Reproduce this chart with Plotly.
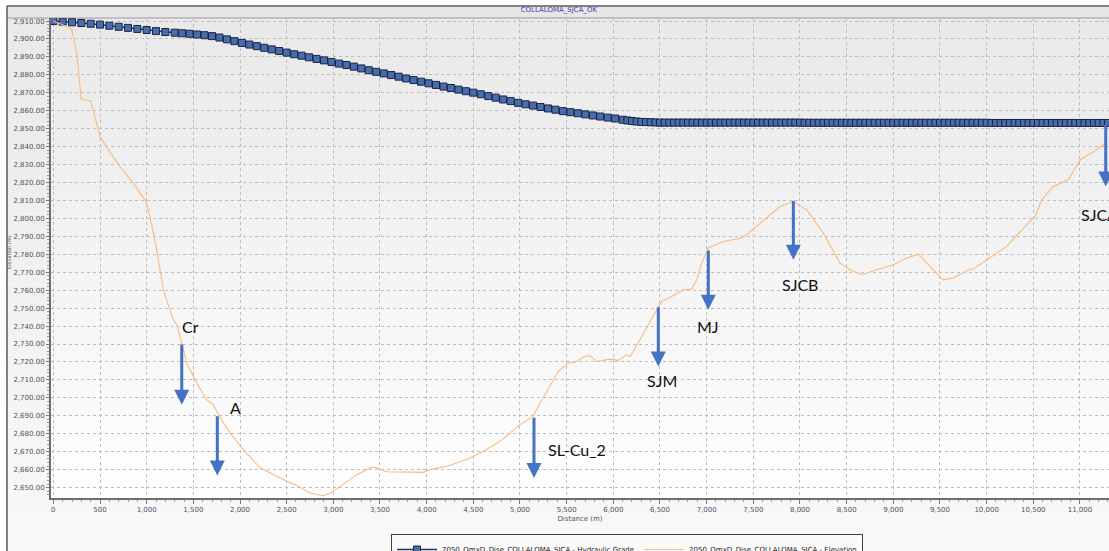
import plotly.graph_objects as go

# ---------------- DATA ----------------
chart_title = "COLLALOMA_SJCA_OK"
grade_name = "2050_QmxD_Dise_COLLALOMA_SJCA - Hydraulic Grade"
elev_name = "2050_QmxD_Dise_COLLALOMA_SJCA - Elevation"

# Hydraulic grade (node distances, m) and values (m)
grade_dist = [
    0, 100, 200, 300, 400, 500, 600, 700, 800, 900, 1000, 1100, 1200, 1300,
    1380, 1460, 1540, 1620, 1700, 1780, 1860, 1940, 2020, 2100,
    2180, 2260, 2340, 2420, 2500, 2580, 2660, 2740, 2820, 2900,
    2980, 3060, 3140, 3220, 3300, 3380, 3460, 3540, 3620, 3700,
    3780, 3860, 3940, 4020, 4100, 4180, 4260, 4340, 4420, 4500,
    4580, 4660, 4740, 4820, 4900, 4980, 5060, 5140, 5220, 5300,
    5380, 5460, 5540, 5620, 5700, 5780, 5860, 5940, 6020, 6100,
    6150, 6200, 6250, 6300, 6350, 6400, 6450, 6500, 6550, 6600,
    6650, 6700, 6750, 6800, 6850, 6900, 6950, 7000, 7050, 7100,
    7150, 7200, 7250, 7300, 7350, 7400, 7450, 7500, 7550, 7600,
    7650, 7700, 7750, 7800, 7850, 7900, 7950, 8000, 8050, 8100,
    8150, 8200, 8250, 8300, 8350, 8400, 8450, 8500, 8550, 8600,
    8650, 8700, 8750, 8800, 8850, 8900, 8950, 9000, 9050, 9100,
    9150, 9200, 9250, 9300, 9350, 9400, 9450, 9500, 9550, 9600,
    9650, 9700, 9750, 9800, 9850, 9900, 9950, 10000, 10050, 10100,
    10150, 10200, 10250, 10300, 10350, 10400, 10450, 10500, 10550, 10600,
    10650, 10700, 10750, 10800, 10850, 10900, 10950, 11000, 11050, 11100,
    11150, 11200, 11250, 11300,
]
grade_hgl = [
    2910.0, 2909.7, 2909.3, 2908.9, 2908.5, 2908.0, 2907.4, 2906.8, 2906.2, 2905.6, 2905.0, 2904.4, 2903.9, 2903.5,
    2903.2, 2902.9, 2902.5, 2902.1, 2901.6, 2900.8, 2899.8, 2898.8, 2897.8, 2896.9,
    2896.0, 2895.1, 2894.2, 2893.3, 2892.4, 2891.5, 2890.7, 2889.8, 2888.9, 2888.1,
    2887.2, 2886.3, 2885.5, 2884.6, 2883.6, 2882.6, 2881.7, 2880.8, 2879.9, 2879.0,
    2878.0, 2877.1, 2876.2, 2875.3, 2874.4, 2873.5, 2872.7, 2871.8, 2870.9, 2870.1,
    2869.2, 2868.2, 2867.3, 2866.3, 2865.4, 2864.4, 2863.6, 2862.9, 2862.1, 2861.3,
    2860.6, 2859.8, 2859.2, 2858.6, 2858.0, 2857.4, 2856.8, 2856.2, 2855.7, 2855.0,
    2854.6, 2854.3, 2854.0, 2853.8, 2853.7, 2853.6, 2853.5, 2853.4, 2853.4, 2853.4,
    2853.4, 2853.4, 2853.4, 2853.4, 2853.4, 2853.4, 2853.4, 2853.4, 2853.4, 2853.4,
    2853.4, 2853.4, 2853.4, 2853.4, 2853.4, 2853.4, 2853.4, 2853.4, 2853.4, 2853.4,
    2853.4, 2853.4, 2853.4, 2853.4, 2853.4, 2853.4, 2853.4, 2853.4, 2853.3, 2853.3,
    2853.3, 2853.3, 2853.3, 2853.3, 2853.3, 2853.3, 2853.3, 2853.3, 2853.3, 2853.3,
    2853.3, 2853.3, 2853.3, 2853.3, 2853.3, 2853.3, 2853.3, 2853.3, 2853.3, 2853.3,
    2853.3, 2853.3, 2853.3, 2853.3, 2853.3, 2853.3, 2853.3, 2853.3, 2853.3, 2853.3,
    2853.3, 2853.3, 2853.3, 2853.3, 2853.3, 2853.3, 2853.3, 2853.3, 2853.2, 2853.2,
    2853.2, 2853.2, 2853.2, 2853.2, 2853.2, 2853.2, 2853.2, 2853.2, 2853.2, 2853.2,
    2853.2, 2853.2, 2853.2, 2853.2, 2853.2, 2853.2, 2853.2, 2853.2, 2853.2, 2853.2,
    2853.2, 2853.2, 2853.2, 2853.2,
]

# Ground elevation profile
elev_dist = [
    0, 100, 197, 250, 300, 400, 500, 590, 715, 857, 993, 1036, 1108, 1179,
    1286, 1322, 1376, 1429, 1536, 1643, 1714, 1768, 1893, 2036, 2215, 2357,
    2500, 2625, 2750, 2893, 2965, 3072, 3251, 3411, 3465, 3572, 3786, 3965,
    4036, 4215, 4429, 4607, 4786, 5000, 5143, 5215, 5286, 5411, 5518, 5590,
    5679, 5750, 5822, 5965, 6054, 6143, 6179, 6286, 6393, 6518, 6626, 6750,
    6840, 6893, 6947, 7018, 7179, 7286, 7358, 7429, 7643, 7786, 7929, 8072,
    8250, 8429, 8536, 8661, 8822, 9000, 9143, 9268, 9358, 9536, 9643, 9804,
    9857, 10036, 10215, 10358, 10518, 10590, 10715, 10875, 11000, 11143, 11286,
]
elev_val = [
    2910.0, 2908.0, 2905.4, 2892.0, 2866.4, 2865.6, 2845.6, 2838.2, 2828.9, 2819.6, 2809.4, 2801.0, 2782.5, 2760.0,
    2743.5, 2740.8, 2730.6, 2719.4, 2708.3, 2699.0, 2696.2, 2690.6, 2680.5, 2671.2, 2661.0, 2657.2,
    2653.5, 2650.7, 2647.0, 2645.5, 2647.0, 2650.7, 2657.2, 2661.5, 2661.0, 2658.8, 2658.5, 2658.5,
    2660.0, 2661.9, 2665.6, 2670.2, 2675.8, 2685.1, 2689.7, 2697.2, 2703.6, 2714.8, 2719.4, 2719.8,
    2722.8, 2723.5, 2720.3, 2721.6, 2720.9, 2724.0, 2723.1, 2732.4, 2742.6, 2753.7, 2756.5, 2760.2,
    2760.6, 2765.8, 2775.1, 2783.5, 2787.1, 2788.1, 2789.0, 2790.9, 2800.2, 2806.6, 2809.4, 2804.8,
    2791.8, 2775.1, 2771.4, 2768.6, 2771.4, 2774.2, 2777.9, 2780.1, 2775.1, 2765.8, 2766.8, 2771.4,
    2771.8, 2777.9, 2784.4, 2792.7, 2801.0, 2810.4, 2817.8, 2821.5, 2832.6, 2837.2, 2842.3,
]

# Node call-outs (arrow from top value down to tip value at distance x)
node_labels = ["Cr", "A", "SL-Cu_2", "SJM", "MJ", "SJCB", "SJCA"]
node_x = [1376, 1757, 5150, 6482, 7018, 7929, 11276]
node_top = [2730.6, 2690.6, 2689.7, 2751.3, 2782.9, 2810.7, 2853.1]
node_tip = [2696.2, 2656.7, 2655.4, 2717.5, 2749.1, 2777.0, 2817.8]
label_x = [1465, 1947, 5611, 6522, 7015, 7999, 10985]
label_y = [2739.6, 2694.5, 2671.2, 2709.6, 2739.6, 2763.0, 2802.0]
source_label = "Collaloma N2-211"
source_label_pos = (-46, 2900.9)

x_ticks_step = 500
y_ticks_step = 10

# ---------------- FIGURE ----------------
W, H = 1109, 551
ML, MR, MT, MB = 51, 0, 18, 53
plot_h = H - MT - MB
plot_w = W - ML - MR


def px_to_paper_x(px):
    return (px - ML) / plot_w


def py_to_paper_y(py):
    return (H - MB - py) / plot_h


fig = go.Figure()

fig.add_trace(go.Scatter(
    x=grade_dist, y=grade_hgl, mode="lines+markers", name=grade_name,
    line=dict(color="#1f3560", width=1.5),
    marker=dict(symbol="square", size=7, color="#4a6ca8",
                line=dict(color="#16264a", width=1)),
))
fig.add_trace(go.Scatter(
    x=elev_dist, y=elev_val, mode="lines", name=elev_name,
    line=dict(color="#f8bb80", width=1.1),
))

shapes = []
# outer chart gradient background
xl = px_to_paper_x(7)
n = 30
y_top_outer = 1.0
y_bot_outer = py_to_paper_y(H)
for i in range(n):
    t = i / (n - 1)
    c = int(round(234 + (248 - 234) * t))
    y1 = y_top_outer + (y_bot_outer - y_top_outer) * i / n
    y0 = y_top_outer + (y_bot_outer - y_top_outer) * (i + 1) / n
    shapes.append(dict(type="rect", xref="paper", yref="paper", x0=xl, x1=1.01,
                       y0=y0, y1=y1, fillcolor=f"rgb({c},{c},{c})",
                       line=dict(width=0), layer="below"))
# plot-area gradient
for i in range(n):
    t = i / (n - 1)
    c = int(round(233 + (254 - 233) * t))
    y1 = 1.0 - i / n
    y0 = 1.0 - (i + 1) / n
    shapes.append(dict(type="rect", xref="paper", yref="paper", x0=0, x1=1.01,
                       y0=y0, y1=y1, fillcolor=f"rgb({c},{c},{c})",
                       line=dict(width=0), layer="below"))
# title band
yt = py_to_paper_y(6)
shapes.append(dict(type="rect", xref="paper", yref="paper", x0=xl, x1=1.01,
                   y0=1.0, y1=yt, fillcolor="#e6e6e6", line=dict(width=0), layer="below"))
shapes.append(dict(type="line", xref="paper", yref="paper", x0=xl, x1=1.01,
                   y0=1.0, y1=1.0, line=dict(color="#9a9a9a", width=1), layer="below"))
shapes.append(dict(type="line", xref="paper", yref="paper", x0=xl, x1=1.01,
                   y0=yt, y1=yt, line=dict(color="#5a5a5a", width=1.5), layer="below"))
shapes.append(dict(type="line", xref="paper", yref="paper", x0=xl, x1=xl,
                   y0=py_to_paper_y(H + 5), y1=yt, line=dict(color="#5a5a5a", width=1.5), layer="below"))

annotations = []
for lab, xx, top, tip, lx, ly in zip(node_labels, node_x, node_top, node_tip, label_x, label_y):
    annotations.append(dict(
        x=xx, y=tip, ax=xx, ay=top, xref="x", yref="y", axref="x", ayref="y",
        text="", showarrow=True, arrowhead=2, arrowsize=1, arrowwidth=3,
        arrowcolor="#4472c4", standoff=0, startstandoff=0,
    ))
    annotations.append(dict(
        x=lx, y=ly, xref="x", yref="y", text=lab, showarrow=False,
        xanchor="left" if lab == "SJCA" else "center", yanchor="middle",
        font=dict(family="Lato", size=16, color="#111111"),
    ))
annotations.append(dict(
    x=source_label_pos[0], y=source_label_pos[1], xref="x", yref="y",
    text=source_label, showarrow=False, xanchor="left", yanchor="middle",
    font=dict(family="Lato", size=16, color="#111111"),
))
annotations.append(dict(
    x=px_to_paper_x(4), y=py_to_paper_y(252), xref="paper", yref="paper",
    text="Elevation (m)", showarrow=False, textangle=-90,
    font=dict(family="DejaVu Sans", size=5, color="#505064"),
))

tickfont = dict(family="DejaVu Sans", size=7, color="#505064")

fig.update_layout(
    width=W, height=H,
    margin=dict(l=ML, r=MR, t=MT, b=MB, autoexpand=False),
    paper_bgcolor="white", plot_bgcolor="rgba(0,0,0,0)",
    title=dict(text=chart_title, x=0.504, xref="container", xanchor="center",
               y=1 - 9.5 / H, yref="container", yanchor="middle",
               font=dict(family="DejaVu Sans", size=7, color="#4b3ca8")),
    xaxis=dict(
        range=[-25, 11311], tick0=0, dtick=x_ticks_step, tickformat=",",
        showgrid=True, gridcolor="#bdbdbd", griddash="dot", gridwidth=1,
        showline=True, linecolor="#6e6e6e", linewidth=2, zeroline=False,
        ticks="outside", ticklen=4, tickcolor="#7a7a7a", tickfont=tickfont,
        minor=dict(dtick=100, ticks="outside", ticklen=2, tickcolor="#9a9a9a", showgrid=False),
        title=dict(text="Distance (m)", font=dict(family="DejaVu Sans", size=7, color="#505064"), standoff=3),
    ),
    yaxis=dict(
        range=[2644.2, 2911.7], tick0=2650, dtick=y_ticks_step, tickformat=",.2f",
        showgrid=True, gridcolor="#bdbdbd", griddash="dot", gridwidth=1,
        showline=True, linecolor="#6e6e6e", linewidth=2, zeroline=False,
        ticks="outside", ticklen=3, tickcolor="#7a7a7a", tickfont=tickfont,
        minor=dict(dtick=2, ticks="outside", ticklen=2, tickcolor="#9a9a9a", showgrid=False),
    ),
    legend=dict(orientation="h", x=px_to_paper_x(391), xanchor="left",
                y=py_to_paper_y(534), yanchor="top",
                bgcolor="#fafafa", bordercolor="#404040", borderwidth=1,
                font=dict(family="DejaVu Sans", size=7, color="#222222"),
                itemwidth=40, tracegroupgap=0),
    shapes=shapes,
    annotations=annotations,
    showlegend=True,
)

fig.write_html("out.html")
